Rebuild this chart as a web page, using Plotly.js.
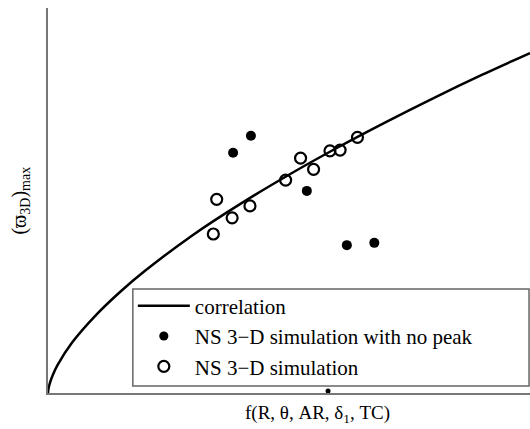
<!DOCTYPE html>
<html>
<head>
<meta charset="utf-8">
<script src="https://cdn.plot.ly/plotly-3.0.1.min.js"></script>
<style>
  html, body { margin: 0; padding: 0; background: #fff; }
  #chart { width: 530px; height: 429px; }
</style>
</head>
<body>
<div id="chart"></div>
<script>
// Correlation curve, sampled along f(...)
const corrX = [0, 0.01, 0.05, 0.1, 0.2, 0.5, 1, 1.5, 2, 3, 4, 5, 6, 7, 8, 9, 10];
const corrY = [0, 0.11, 0.30, 0.47, 0.73, 1.31, 2.03, 2.63, 3.16, 4.10, 4.92, 5.67, 6.37, 7.03, 7.66, 8.26, 8.83];

// NS 3-D simulation results
const simX = [3.50, 3.43, 3.82, 4.19, 4.93, 5.24, 5.51, 5.85, 6.06, 6.42];
const simY = [5.03, 4.13, 4.55, 4.86, 5.53, 6.10, 5.81, 6.29, 6.31, 6.64];

// NS 3-D simulation cases with no peak
const noPeakX = [3.84, 4.21, 5.37, 6.20, 6.77, 5.81];
const noPeakY = [6.24, 6.68, 5.25, 3.84, 3.90, 0.05];

const serif = 'Liberation Serif';

const traces = [
  {
    x: corrX, y: corrY, type: 'scatter', mode: 'lines',
    line: { color: '#000', width: 2.5, shape: 'spline', smoothing: 1 },
    name: 'correlation', legendgroup: 'a'
  },
  {
    x: noPeakX, y: noPeakY, type: 'scatter', mode: 'markers',
    marker: { color: '#000', size: [10, 10, 10, 10, 10, 5], symbol: 'circle',
              opacity: 1, line: { width: 0 } },
    name: 'NS 3\u2212D simulation with no peak', legendgroup: 'b',
    cliponaxis: false
  },
  {
    x: simX, y: simY, type: 'scatter', mode: 'markers',
    marker: { color: '#000', size: 11, symbol: 'circle-open',
              line: { color: '#000', width: 2.2 } },
    name: 'NS 3\u2212D simulation', legendgroup: 'c'
  }
];

const layout = {
  width: 530, height: 429,
  margin: { l: 48, r: 0, t: 8, b: 36 },
  paper_bgcolor: '#fff', plot_bgcolor: '#fff',
  font: { family: serif, color: '#000', size: 20 },
  showlegend: true,
  xaxis: {
    range: [0, 10], showgrid: false, zeroline: false, showticklabels: false,
    ticks: '', showline: true, linecolor: '#777', linewidth: 2, mirror: false
  },
  yaxis: {
    range: [0, 10], showgrid: false, zeroline: false, showticklabels: false,
    ticks: '', showline: true, linecolor: '#777', linewidth: 2, mirror: false
  },
  // legend frame, running out to the right edge
  shapes: [
    {
      type: 'rect', xref: 'paper', yref: 'paper', layer: 'above',
      x0: 0.176, x1: 0.998, y0: 0.018, y1: 0.27,
      fillcolor: '#fff', line: { color: '#666', width: 1.5 }
    }
  ],
  legend: {
    x: 0.176, y: 0.279, xanchor: 'left', yanchor: 'top',
    bgcolor: 'rgba(0,0,0,0)', borderwidth: 0,
    font: { family: serif, size: 21, color: '#000' },
    tracegroupgap: 10, itemwidth: 52, traceorder: 'normal'
  },
  annotations: [
    {
      xref: 'paper', yref: 'paper', x: 0.56, y: -0.018,
      xanchor: 'center', yanchor: 'top', showarrow: false,
      text: 'f(R, \u03b8, AR, \u03b4<sub>1</sub>, TC)',
      font: { family: serif, size: 19, color: '#000' }
    },
    {
      xref: 'paper', yref: 'paper', x: -0.058, y: 0.5,
      xanchor: 'center', yanchor: 'middle', showarrow: false, textangle: -90,
      text: '(\u03d6<sub>3D</sub>)<sub>max</sub>',
      font: { family: serif, size: 20, color: '#000' }
    }
  ]
};

Plotly.newPlot('chart', traces, layout, { staticPlot: true, displayModeBar: false });
</script>
</body>
</html>
